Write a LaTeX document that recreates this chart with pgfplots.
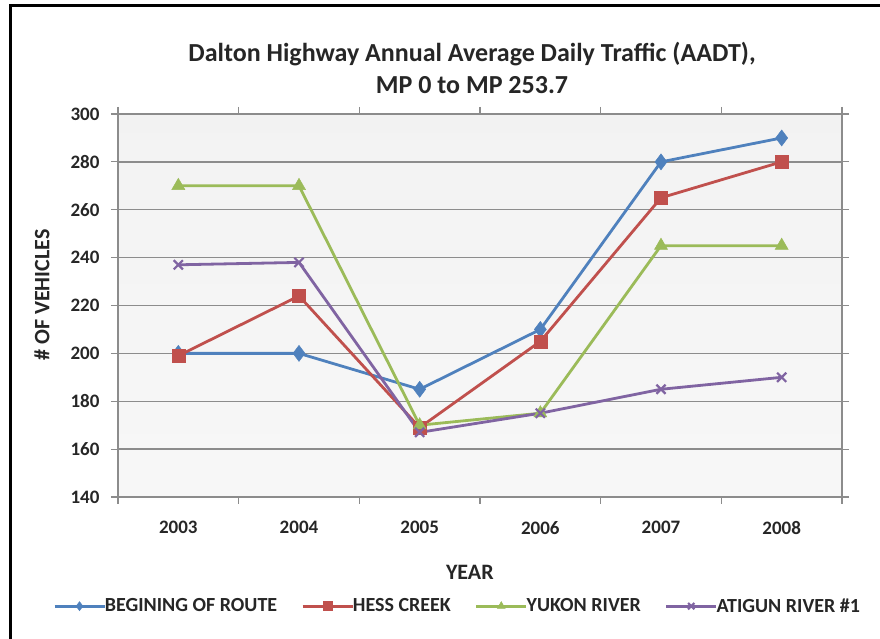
\documentclass[border=0pt]{standalone}
\usepackage{pgfplots}
\pgfplotsset{compat=1.18}
\usepackage{fontspec}
\setmainfont{Carlito}
\definecolor{cblue}{HTML}{4F81BD}
\definecolor{cred}{HTML}{C0504D}
\definecolor{cgreen}{HTML}{9BBB59}
\definecolor{cpurple}{HTML}{8064A2}
\definecolor{cgrid}{HTML}{8C8C8C}
\definecolor{ctext}{HTML}{262626}
\begin{document}
\begin{tikzpicture}
\path[use as bounding box] (0pt,0pt) rectangle (880pt,639pt);
\draw[line width=3pt,black] (10pt,0pt) -- (10pt,633pt) -- (880pt,633pt);
\begin{axis}[
  at={(118pt,142pt)}, anchor=south west,
  scale only axis, width=724pt, height=383pt,
  xmin=-0.5, xmax=5.5, ymin=140, ymax=300,
  xtick={0,...,5}, xticklabels={2003,2004,2005,2006,2007,2008},
  minor xtick={-0.5,0.5,...,5.5},
  ytick={140,160,...,300},
  major x tick style={draw=none},
  minor x tick style={cgrid, line width=1.2pt},
  y tick style={cgrid, line width=1.2pt},
  tick align=outside, major tick length=7pt, minor tick length=7pt,
  ymajorgrids, grid style={cgrid, line width=1.3pt},
  axis line style={cgrid, line width=1.5pt},
  axis background/.style={shade, top color=gray!10, bottom color=gray!6},
  /pgf/number format/assume math mode=true,
  ticklabel style={font=\fontsize{19}{21}\selectfont\bfseries, text=ctext},
  xticklabel style={yshift=-14pt},
  yticklabel style={xshift=-8pt},
  title={Dalton Highway Annual Average Daily Traffic (AADT),\\MP 0 to MP 253.7},
  title style={font=\fontsize{26}{32}\selectfont\bfseries, align=center, text=ctext, at={(axis description cs:0.489,1.104)}, anchor=center},
  xlabel={YEAR},
  xlabel style={font=\fontsize{22}{24}\selectfont\bfseries, text=ctext, at={(axis description cs:0.486,-0.198)}, anchor=center},
  ylabel={\# OF VEHICLES},
  ylabel style={font=\fontsize{22}{24}\selectfont\bfseries, text=ctext, at={(axis description cs:-0.105,0.527)}, anchor=center, rotate=0},
  legend columns=4,
  legend style={draw=none, fill=none, at={(axis description cs:0.469,-0.285)}, anchor=center,
    font=\fontsize{20}{22}\selectfont\bfseries, text=ctext,
    /tikz/every even column/.append style={column sep=22pt},
    /tikz/every odd column/.append style={column sep=-3pt}},
  legend image code/.code={\draw[mark repeat=2,mark phase=2,mark size=4.5pt] plot coordinates {(0pt,0pt) (25pt,0pt) (50pt,0pt)};},
  every axis plot/.append style={line width=2.8pt},
]
\addplot[cblue, mark=diamond*, mark size=8pt, mark options={solid, line width=0.5pt}] coordinates {(0,200) (1,200) (2,185) (3,210) (4,280) (5,290)};
\addlegendentry{BEGINING OF ROUTE}
\addplot[cred, mark=square*, mark size=6.5pt, mark options={solid, line width=0.5pt}] coordinates {(0,199) (1,224) (2,169) (3,205) (4,265) (5,280)};
\addlegendentry{HESS CREEK}
\addplot[cgreen, mark=triangle*, mark size=7.5pt, mark options={solid, line width=0.5pt}] coordinates {(0,270) (1,270) (2,170) (3,175) (4,245) (5,245)};
\addlegendentry{YUKON RIVER}
\addplot[cpurple, mark=x, mark size=6.5pt, mark options={solid, line width=2.2pt}] coordinates {(0,237) (1,238) (2,167) (3,175) (4,185) (5,190)};
\addlegendentry{ATIGUN RIVER \#1}
\end{axis}
\end{tikzpicture}
\end{document}
